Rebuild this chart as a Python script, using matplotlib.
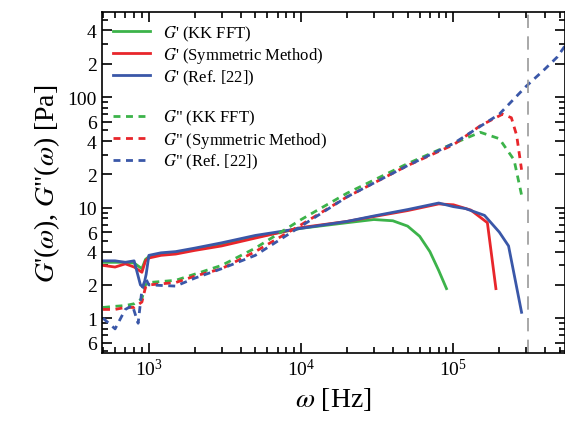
import matplotlib.pyplot as plt
from matplotlib.ticker import LogLocator, FixedLocator, FixedFormatter, NullFormatter

plt.rcParams['font.family'] = ['Liberation Serif', 'DejaVu Serif']
plt.rcParams['mathtext.fontset'] = 'stix'

# G' curves
f_kk = [500, 600, 700, 800, 900, 950, 1000, 1200, 1500, 2000, 3000, 5000, 1e4, 2e4, 3e4, 4e4, 5e4, 6e4, 7e4, 8e4, 9e4]
gp_kk = [3.2, 3.2, 3.2, 3.15, 2.8, 3.4, 3.6, 3.8, 3.9, 4.2, 4.6, 5.4, 6.5, 7.3, 7.8, 7.6, 6.8, 5.5, 4.0, 2.7, 1.85]
f_sym = [500, 600, 700, 800, 900, 950, 1000, 1200, 1500, 2000, 3000, 5000, 1e4, 2e4, 3e4, 5e4, 8e4, 1e5, 1.3e5, 1.67e5, 1.9e5]
gp_sym = [3.0, 2.9, 3.1, 2.9, 2.6, 3.3, 3.5, 3.7, 3.8, 4.1, 4.5, 5.3, 6.6, 7.5, 8.3, 9.4, 10.8, 10.6, 9.5, 7.3, 1.85]
f_ref = [500, 600, 700, 800, 880, 920, 960, 1000, 1200, 1500, 2000, 3000, 5000, 1e4, 2e4, 3e4, 5e4, 8e4, 1e5, 1.2e5, 1.6e5, 2e5, 2.3e5, 2.8e5]
gp_ref = [3.3, 3.3, 3.2, 3.3, 2.0, 1.9, 2.5, 3.7, 3.9, 4.0, 4.3, 4.8, 5.6, 6.5, 7.5, 8.4, 9.6, 11.0, 10.2, 9.8, 8.5, 6.0, 4.5, 1.13]

# G'' curves
f2_kk = [500, 600, 700, 800, 900, 950, 1000, 1500, 2000, 3000, 5000, 1e4, 2e4, 5e4, 1e5, 1.5e5, 2e5, 2.5e5, 2.8e5]
gpp_kk = [1.25, 1.28, 1.3, 1.35, 1.5, 2.0, 2.1, 2.2, 2.5, 3.0, 4.3, 7.8, 13.5, 25, 38, 48, 42, 27, 13]
f2_sym = [500, 600, 700, 800, 900, 950, 1000, 1500, 2000, 3000, 5000, 1e4, 2e4, 5e4, 1e5, 1.5e5, 2.1e5, 2.4e5, 2.6e5, 2.8e5]
gpp_sym = [1.2, 1.2, 1.25, 1.25, 1.4, 1.9, 2.0, 2.1, 2.4, 2.8, 4.0, 7.0, 12.5, 24, 37, 55, 70, 65, 45, 22]
f2_ref = [500, 600, 700, 780, 850, 900, 950, 1000, 1500, 2000, 3000, 5000, 1e4, 2e4, 5e4, 1e5, 2e5, 3e5, 4e5, 4.8e5, 5.4e5]
gpp_ref = [1.0, 0.8, 1.2, 1.3, 0.9, 1.8, 2.3, 2.0, 1.95, 2.3, 2.8, 3.7, 6.8, 12.5, 24, 38, 70, 125, 180, 230, 290]

cutoff = 3.1e5
green, red, blue = '#3cb34a', '#e8262b', '#3a57a8'

yt = [0.6, 1, 2, 4, 6, 10, 20, 40, 60, 100, 200, 400]
yt_labels = ['6', '1', '2', '4', '6', '10', '2', '4', '6', '100', '2', '4']

fig, ax = plt.subplots(figsize=(5.65, 4.27), dpi=100)
fig.subplots_adjust(left=0.18, right=1.0, top=0.97, bottom=0.17)

ax.plot(f_kk, gp_kk, color=green, lw=2, label="$G$' (KK FFT)")
ax.plot(f_sym, gp_sym, color=red, lw=2, label="$G$' (Symmetric Method)")
ax.plot(f_ref, gp_ref, color=blue, lw=2, label="$G$' (Ref. [22])")
ax.plot([], [], ' ', label=' ')
ax.plot(f2_kk, gpp_kk, color=green, lw=2, ls=(0, (2.5, 2)), label='$G$" (KK FFT)')
ax.plot(f2_sym, gpp_sym, color=red, lw=2, ls=(0, (2.5, 2)), label='$G$" (Symmetric Method)')
ax.plot(f2_ref, gpp_ref, color=blue, lw=2, ls=(0, (2.5, 2)), label='$G$" (Ref. [22])')
ax.axvline(cutoff, color='#999999', lw=1.2, ls=(0, (8, 5)))

ax.set_xscale('log')
ax.set_yscale('log')
ax.set_xlim(490, 5.4e5)
ax.set_ylim(0.48, 590)

ax.yaxis.set_major_locator(FixedLocator(yt))
ax.yaxis.set_major_formatter(FixedFormatter(yt_labels))
ax.yaxis.set_minor_locator(LogLocator(subs=range(2, 10)))
ax.yaxis.set_minor_formatter(NullFormatter())
ax.xaxis.set_major_locator(LogLocator(numticks=10))
ax.xaxis.set_minor_locator(LogLocator(subs=range(2, 10), numticks=20))
ax.tick_params(which='both', direction='in', top=True, right=True, labelsize=14, width=1.2)
ax.tick_params(which='major', length=7)
ax.tick_params(which='minor', length=4)
for s in ax.spines.values():
    s.set_linewidth(1.2)

ax.set_xlabel(r"$\omega$ [Hz]", fontsize=20)
ax.set_ylabel("$G$'($\\omega$), $G$\"($\\omega$) [Pa]", fontsize=20)
ax.legend(loc='upper left', frameon=False, fontsize=12, handlelength=2.2,
          labelspacing=0.15, borderaxespad=0.3)

fig.savefig('out.png', dpi=100)
